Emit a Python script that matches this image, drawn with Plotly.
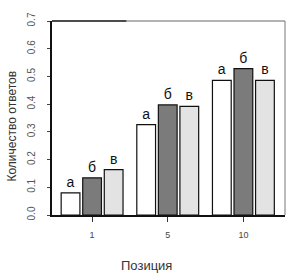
import plotly.graph_objects as go

positions = ["1", "5", "10"]
series_names = ["а", "б", "в"]
values_a = [0.080, 0.326, 0.486]
values_b = [0.134, 0.397, 0.528]
values_v = [0.164, 0.392, 0.486]
colors = ["#ffffff", "#7b7b7b", "#e3e3e3"]
y_ticks = [0.0, 0.1, 0.2, 0.3, 0.4, 0.5, 0.6, 0.7]

fig = go.Figure()
for name, vals, col in zip(series_names, [values_a, values_b, values_v], colors):
    fig.add_trace(go.Bar(
        x=positions, y=vals, name=name, marker=dict(color=col, line=dict(color="#111", width=1.2)),
        text=[name] * len(vals), textposition="outside", cliponaxis=False,
        textfont=dict(family="Liberation Sans, Arial", size=14, color="#111"),
    ))

fig.update_layout(
    width=293, height=276,
    margin=dict(l=52, r=8, t=21, b=61),
    paper_bgcolor="white", plot_bgcolor="white",
    barmode="group", bargap=0.145, bargroupgap=0.13,
    showlegend=False,
    xaxis=dict(
        type="category", range=[-0.53, 2.55],
        showline=True, linecolor="#111", linewidth=1.5,
        ticks="outside", ticklen=5, tickcolor="#333", tickwidth=1.2,
        tickfont=dict(family="Liberation Sans, Arial", size=9, color="#444"),
        ticklabelstandoff=5, showgrid=False,
    ),
    yaxis=dict(
        range=[0, 0.7], tickvals=y_ticks, tickformat=".1f",
        showline=True, linecolor="#111", linewidth=1.5,
        ticks="outside", ticklen=3, tickcolor="#444", tickwidth=1,
        tickangle=-90, ticklabelstandoff=8,
        tickfont=dict(family="Liberation Sans, Arial", size=10, color="#555"),
        showgrid=False, zeroline=False,
    ),
    shapes=[
        dict(type="line", xref="paper", yref="paper", x0=0, x1=0.32, y0=1, y1=1,
             line=dict(color="#111", width=1.5)),
        dict(type="line", xref="paper", yref="paper", x0=0.32, x1=1, y0=1, y1=1,
             line=dict(color="#666", width=1)),
        dict(type="line", xref="paper", yref="paper", x0=1, x1=1, y0=0, y1=1,
             line=dict(color="#777", width=1)),
    ],
    annotations=[
        dict(text="Количество ответов", xref="paper", yref="paper", x=-40 / 233, y=0.456,
             textangle=-90, showarrow=False, xanchor="center", yanchor="middle",
             font=dict(family="Liberation Sans, Arial", size=12, color="#333")),
        dict(text="Позиция", xref="paper", yref="paper", x=(146 - 52) / 233, y=-50 / 194,
             showarrow=False, xanchor="center", yanchor="middle",
             font=dict(family="Liberation Sans, Arial", size=13, color="#333")),
    ],
)

fig.write_html("out.html")
